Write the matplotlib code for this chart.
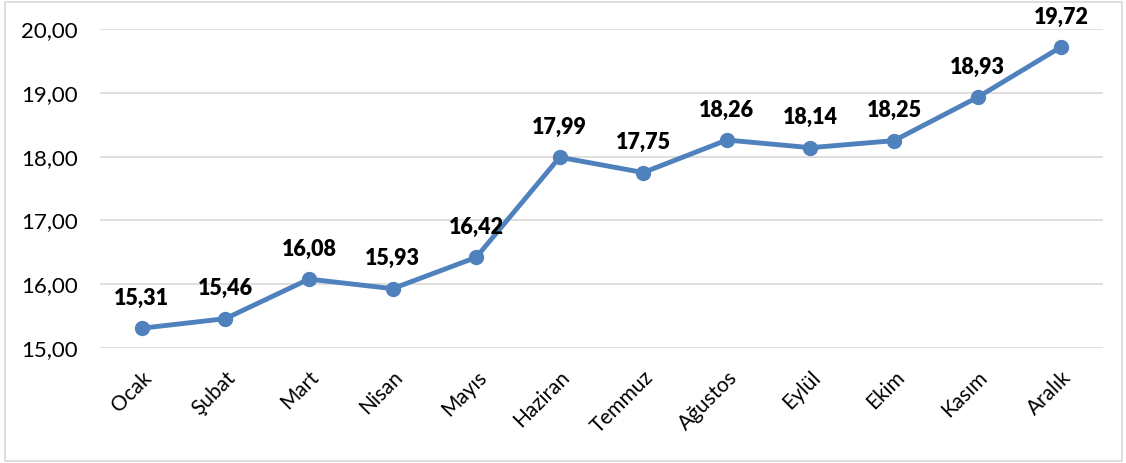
import matplotlib
matplotlib.use("Agg")
import matplotlib.pyplot as plt
from matplotlib.patches import Rectangle
from matplotlib.ticker import FuncFormatter

months = ["Ocak", "Şubat", "Mart", "Nisan", "Mayıs", "Haziran", "Temmuz",
          "Ağustos", "Eylül", "Ekim", "Kasım", "Aralık"]
values = [15.31, 15.46, 16.08, 15.93, 16.42, 17.99, 17.75, 18.26, 18.14, 18.25, 18.93, 19.72]
y_ticks = [15, 16, 17, 18, 19, 20]

plt.rcParams['font.family'] = ['Lato', 'DejaVu Sans']

fig = plt.figure(figsize=(11.26, 4.63), dpi=100)
ax = fig.add_axes([100/1126, 1-348/463, (1103-100)/1126, (348-29)/463])

color = "#4F81BD"
x = list(range(len(months)))
ax.plot(x, values, color=color, lw=3.5, marker="o", ms=10, zorder=3, clip_on=False)

for xi, v in zip(x, values):
    ax.annotate(f"{v:.2f}".replace(".", ","), (xi, v), xytext=(0, 21.5),
                textcoords="offset points", ha="center", va="center",
                fontsize=15.5, fontweight="heavy", color="black")

ax.set_xlim(-0.5, len(months) - 0.5)
ax.set_ylim(15, 20)
ax.set_yticks(y_ticks)
ax.yaxis.set_major_formatter(FuncFormatter(lambda v, p: f"{v:.2f}".replace(".", ",")))
ax.grid(axis="y", color="#D9D9D9", lw=1.2)
ax.set_axisbelow(True)
for s in ax.spines.values():
    s.set_visible(False)
ax.tick_params(axis="both", length=0, colors="black")
ax.tick_params(axis="y", pad=16, labelsize=16)
ax.set_xticks(x)
ax.set_xticklabels(months, rotation=45, ha="right", rotation_mode="anchor", fontsize=15)
ax.tick_params(axis="x", pad=14)

fig.patches.append(Rectangle((5/1126, 2/463), 1117/1126, 459/463, transform=fig.transFigure,
                             fill=False, edgecolor="#D9D9D9", lw=1.2))

fig.savefig("out.png", dpi=100)
